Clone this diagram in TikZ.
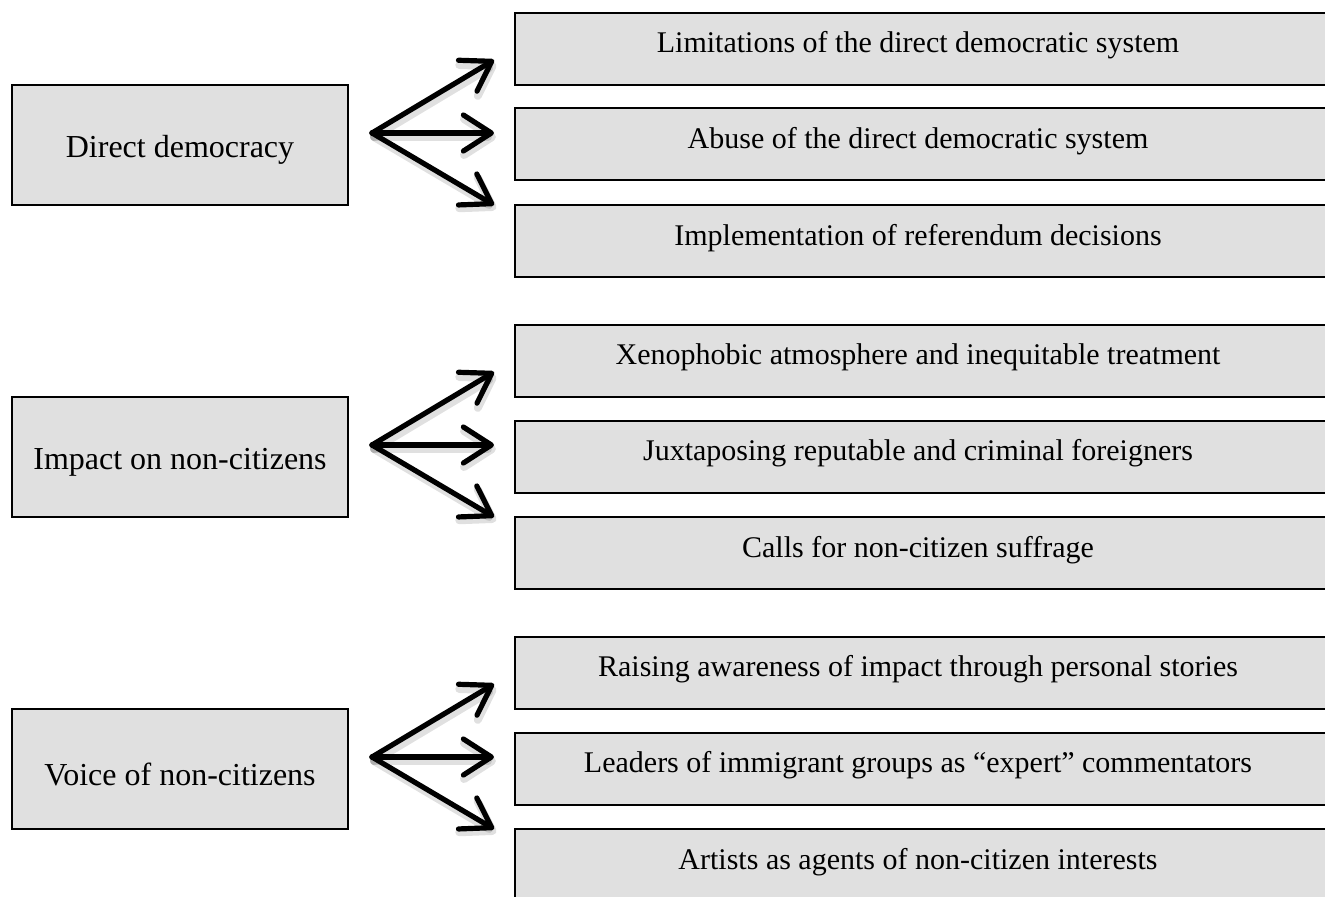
\documentclass[tikz,border=0pt]{standalone}
\usepackage{fontspec}
\setmainfont{Liberation Serif}
\usetikzlibrary{arrows.meta}
\definecolor{boxgray}{HTML}{E0E0E0}
\tikzset{
  leftbox/.style={draw=black, line width=1pt, fill=boxgray, minimum width=168pt, minimum height=60pt, inner sep=0pt},
  lefttext/.style={font=\fontsize{16}{19}\selectfont, inner sep=0pt},
  rightbox/.style={draw=black, line width=1pt, fill=boxgray, minimum width=406pt, minimum height=36pt, inner sep=0pt},
  righttext/.style={font=\fontsize{15}{18}\selectfont, inner sep=0pt},
  bigarrow/.style={line width=2.6pt, line cap=round, -{Straight Barb[length=14pt, width=18pt, line width=2.6pt, round]}},
  arrowshadow/.style={line width=4pt, line cap=round, draw=black, opacity=0.12, -{Straight Barb[length=14pt, width=18pt, line width=4pt, round]}}
}
\begin{document}
\begin{tikzpicture}[x=0.5pt,y=-0.5pt]
\useasboundingbox (0,0) rectangle (1325,897);
\foreach \g/\L/\A/\B/\C in {
  0/Direct democracy/Limitations of the direct democratic system/Abuse of the direct democratic system/Implementation of referendum decisions,
  1/Impact on non-citizens/Xenophobic atmosphere and inequitable treatment/Juxtaposing reputable and criminal foreigners/Calls for non-citizen suffrage,
  2/Voice of non-citizens/Raising awareness of impact through personal stories/Leaders of immigrant groups as ``expert'' commentators/Artists as agents of non-citizen interests}{
  \pgfmathsetmacro{\dy}{312*\g}
  \begin{scope}[yshift={-\dy*0.5pt}]
    \node[leftbox] (left\g) at (180,145) {};
    \node[lefttext] (lt\g) at (180,150) {\L};
    \node[rightbox] (ra\g) at (921,49) {};
    \node[rightbox] (rb\g) at (921,144.5) {};
    \node[rightbox] (rc\g) at (921,241) {};
    \node[righttext] (ta\g) at (918,45) {\A};
    \node[righttext] (tb\g) at (918,141) {\B};
    \node[righttext] (tc\g) at (918,238) {\C};
    \coordinate (o\g) at (372,133);
    \coordinate (pa\g) at (494,60);
    \coordinate (pb\g) at (494,133);
    \coordinate (pc\g) at (494,205);
    \coordinate (so\g) at (374,137);
    \coordinate (spa\g) at (496,64);
    \coordinate (spb\g) at (496,137);
    \coordinate (spc\g) at (496,209);
    \draw[arrowshadow] (so\g) -- (spa\g);
    \draw[arrowshadow] (so\g) -- (spb\g);
    \draw[arrowshadow] (so\g) -- (spc\g);
    \draw[bigarrow] (o\g) -- (pa\g);
    \draw[bigarrow] (o\g) -- (pb\g);
    \draw[bigarrow] (o\g) -- (pc\g);
  \end{scope}
}
\end{tikzpicture}
\end{document}
